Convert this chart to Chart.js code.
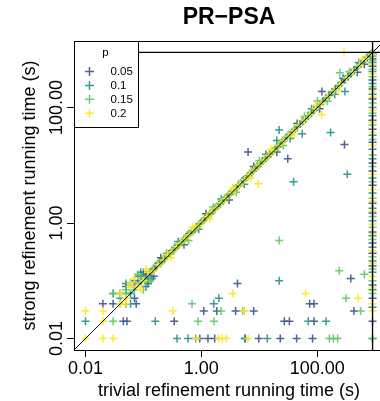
<!DOCTYPE html>
<html>
<head>
<meta charset="utf-8">
<script src="https://cdn.jsdelivr.net/npm/chart.js@4/dist/chart.umd.min.js"></script>
<style>
  html, body { margin: 0; padding: 0; background: #fff; overflow: hidden; }
  #wrap { width: 390px; height: 401px; }
</style>
</head>
<body>
<div id="wrap"><canvas id="plot" width="390" height="401"></canvas></div>
<script>
// PR-PSA: strong vs trivial refinement running time (log-log)

const T = 900;                       // timeout, runs that hit it sit on the lines
const axisMin = 0.00634, axisMax = 1419;
const tickValues = [0.01, 1, 100];
const tickLabels = ['0.01', '1.00', '100.00'];
const pLabels = ['0.05', '0.1', '0.15', '0.2'];
const colors = ['rgba(59,82,139,0.9)', 'rgba(33,144,140,0.9)', 'rgba(93,200,99,0.9)', 'rgba(253,231,37,0.95)'];
const FONT = "'Liberation Sans', Arial, sans-serif";

// [trivial, strong] in seconds
const runs005 = [
  [0.05,0.06],[0.07,0.08],[0.09,0.1],[0.11,0.13],[0.13,0.14],[0.16,0.17],[0.19,0.21],[0.23,0.24],[0.27,0.29],[0.32,0.33],
  [0.38,0.4],[0.45,0.46],[0.53,0.55],[0.62,0.66],[0.74,0.76],[0.87,0.9],[1.05,1.08],[1.25,1.3],[1.5,1.52],[1.8,1.85],
  [2.15,2.2],[2.6,2.7],[3.1,3.2],[3.7,3.8],[4.5,4.6],[5.4,5.6],[6.5,6.6],[7.8,8.1],[9.5,9.7],[11.5,12],
  [14,14.2],[17,17.5],[21,21],[26,27],[32,33],[40,40],[50,52],[62,63],[78,80],[98,100],
  [125,128],[160,162],[205,210],[260,268],[340,345],[430,440],[560,565],[720,730],[880,890],
  [0.2,0.25],[0.5,0.42],[1.2,1.45],[3,2.5],[8,9.5],[20,17],[45,53],[110,95],[280,320],[650,560],
  [0.06,0.09],[0.08,0.12],[0.1,0.14],[0.05,0.08],[0.07,0.05],[0.12,0.09],[0.15,0.12],
  [0.02,0.04],[0.03,0.04],[0.05,0.04],[0.075,0.04],[0.045,0.02],[0.052,0.02],[0.34,0.02],
  [0.94,0.01],[1.3,0.01],[1.7,0.01],[5.7,0.01],[9.8,0.01],[23,0.01],[44,0.01],[83,0.01],
  [1.1,0.03],[1.85,0.03],[3.9,0.03],[8,0.03],[4.2,0.09],[27,0.02],[33,0.02],[88,0.02],[74,0.04],[88,0.04],
  [380,0.11],[430,0.03],[6.4,17],[31,13],[295,23],[120,190],[490,410],
  [T,850],[T,700],[T,520],[T,300],[T,210],[T,140],[T,60],[T,42],[T,25],[T,11],[T,8],[T,4.5],[T,2.2],[T,1.5],
  [T,0.7],[T,0.45],[T,0.3],[T,0.18],[T,0.085],[T,0.05],[T,0.02]
];
const runs01 = [
  [0.04,0.05],[0.06,0.06],[0.08,0.09],[0.1,0.12],[0.12,0.11],[0.15,0.16],[0.18,0.2],[0.21,0.22],[0.25,0.27],[0.3,0.31],
  [0.35,0.38],[0.42,0.43],[0.5,0.52],[0.58,0.62],[0.69,0.7],[0.82,0.86],[0.97,1],[1.15,1.2],[1.4,1.42],[1.7,1.75],
  [2,2.1],[2.4,2.45],[2.9,3],[3.5,3.6],[4.2,4.3],[5,5.3],[6,6.2],[7.2,7.4],[8.7,9],[10.5,10.8],
  [12.8,13.2],[15.5,15.8],[19,19.6],[23,24],[29,30],[36,37],[45,46],[56,58],[70,72],[88,90],
  [110,115],[140,143],[180,185],[230,236],[300,305],[380,390],[490,500],[640,650],[800,810],
  [0.14,0.11],[0.4,0.48],[0.9,0.78],[2.2,2.6],[5.5,4.7],[13,15.5],[34,29],[80,95],[200,170],[520,600],
  [0.03,0.06],[0.04,0.06],[0.05,0.09],[0.07,0.1],[0.09,0.14],[0.11,0.08],[0.06,0.04],
  [0.01,0.02],[0.16,0.02],[0.38,0.01],[0.59,0.01],[0.8,0.01],[5.6,0.01],[13.7,0.01],[1.64,0.04],[2,0.05],
  [22,0.1],[70,0.02],[142,0.02],[22,41],[20,27],[55,35],[170,37],[330,7],[39,5.2],[300,190],
  [T,780],[T,600],[T,420],[T,260],[T,170],[T,100],[T,72],[T,33],[T,19],[T,13],[T,6],[T,3.3],[T,1.8],[T,1.1],
  [T,0.6],[T,0.38],[T,0.22],[T,0.14],[T,0.07],[T,0.035],[T,0.01]
];
const runs015 = [
  [0.04,0.04],[0.05,0.07],[0.07,0.07],[0.09,0.11],[0.11,0.1],[0.14,0.15],[0.17,0.19],[0.2,0.2],[0.24,0.26],[0.29,0.3],
  [0.35,0.36],[0.41,0.44],[0.49,0.5],[0.58,0.6],[0.7,0.72],[0.83,0.85],[1,1.02],[1.2,1.24],[1.45,1.5],[1.75,1.8],
  [2.1,2.12],[2.5,2.6],[3,3.1],[3.6,3.7],[4.4,4.5],[5.2,5.4],[6.3,6.4],[7.6,7.8],[9.2,9.5],[11,11.5],
  [13.5,13.8],[16.5,17],[20,20.6],[24.5,25],[30,31],[37,38],[46,48],[57,59],[71,73],[90,92],
  [112,116],[145,148],[185,190],[240,245],[310,318],[400,408],[520,530],[680,690],[850,860],
  [0.25,0.3],[0.6,0.5],[1.6,1.9],[4,3.4],[10,12],[26,22],[60,70],[150,128],[360,420],[100,130],
  [0.03,0.06],[0.04,0.06],[0.05,0.06],[0.06,0.09],[0.08,0.13],[0.1,0.07],[0.13,0.1],
  [0.03,0.02],[0.69,0.04],[0.88,0.02],[1.65,0.02],[2.2,0.03],[5.2,0.03],[162,0.01],[190,0.01],[225,0.01],
  [240,0.15],[22,0.5],[313,0.05],[560,0.03],[650,0.13],[245,400],
  [T,880],[T,650],[T,460],[T,340],[T,230],[T,120],[T,80],[T,50],[T,28],[T,15],[T,9.5],[T,5.2],[T,2.7],[T,1.3],
  [T,0.85],[T,0.52],[T,0.26],[T,0.16],[T,0.1],[T,0.06],[T,0.01]
];
const runs02 = [
  [0.05,0.05],[0.06,0.08],[0.08,0.08],[0.1,0.1],[0.12,0.14],[0.15,0.15],[0.18,0.19],[0.22,0.23],[0.26,0.28],[0.31,0.32],
  [0.37,0.39],[0.44,0.45],[0.52,0.54],[0.62,0.63],[0.73,0.77],[0.88,0.9],[1.05,1.05],[1.25,1.3],[1.5,1.55],[1.8,1.82],
  [2.2,2.25],[2.6,2.65],[3.2,3.3],[3.8,3.9],[4.6,4.7],[5.6,5.7],[6.7,6.9],[8.1,8.3],[9.8,10],[12,12.3],
  [14.5,14.8],[17.5,18],[21.5,22],[26,27],[32,32],[39,40],[48,50],[60,61],[75,76],[93,96],
  [118,120],[150,155],[195,198],[250,256],[320,330],[410,420],[540,545],[700,710],[880,900],
  [0.3,0.25],[0.7,0.85],[1.4,1.2],[3.5,4.1],[7,6],[16,19],[40,34],[95,110],[230,200],[600,680],
  [0.04,0.04],[0.04,0.06],[0.05,0.04],[0.07,0.11],[0.09,0.07],[0.11,0.16],[0.06,0.09],
  [0.01,0.01],[0.02,0.01],[0.03,0.01],[0.01,0.03],[0.02,0.03],[0.02,0.02],[0.32,0.03],[0.82,0.01],
  [2,0.01],[2.3,0.01],[2.7,0.01],[6.4,0.01],[5.5,0.03],[3.5,0.06],[63,0.06],[510,0.05],[9.6,4.8],[120,75],[290,T],
  [T,820],[T,560],[T,380],[T,190],[T,150],[T,90],[T,55],[T,37],[T,22],[T,7],[T,3.8],[T,2.4],[T,1.6],[T,0.95],
  [T,0.65],[T,0.33],[T,0.2],[T,0.12],[T,0.075],[T,0.04],[T,0.03]
];
const allRuns = [runs005, runs01, runs015, runs02];

const pointSets = allRuns.map((runs, i) => ({
  label: pLabels[i],
  data: runs.map(r => ({ x: r[0], y: r[1] })),
  pointStyle: 'cross',
  pointRadius: 4,
  pointHoverRadius: 4,
  borderWidth: 1.5,
  borderColor: colors[i],
  backgroundColor: colors[i],
  order: 4 - i
}));

function refLine(pts, width) {
  return {
    data: pts.map(p => ({ x: p[0], y: p[1] })),
    showLine: true, pointRadius: 0, borderColor: '#000', borderWidth: width, order: 0
  };
}
const lineSets = [
  refLine([[axisMin, axisMin], [axisMax, axisMax]], 1),
  refLine([[axisMin, T], [axisMax, T]], 1.3),
  refLine([[T, axisMin], [T, axisMax]], 1.3)
];

const decor = {
  id: 'decor',
  afterDatasetsDraw(chart) {
    const { ctx, chartArea: a, scales: { y } } = chart;
    ctx.save();
    ctx.strokeStyle = '#000';
    ctx.lineWidth = 1;
    ctx.strokeRect(a.left + 0.5, a.top + 0.5, a.right - a.left, a.bottom - a.top);

    // legend, top left of plot
    const lx = a.left + 0.5, ly = a.top + 0.5, lw = 64, lh = 86;
    ctx.fillStyle = '#fff';
    ctx.fillRect(lx, ly, lw, lh);
    ctx.strokeRect(lx, ly, lw, lh);
    ctx.fillStyle = '#000';
    ctx.font = '11.5px ' + FONT;
    ctx.textAlign = 'center';
    ctx.textBaseline = 'alphabetic';
    ctx.fillText('p', lx + 31, ly + 14);
    ctx.textAlign = 'left';
    ctx.textBaseline = 'middle';
    pLabels.forEach((lab, i) => {
      const cy = ly + 30 + i * 13.9, cx = lx + 15;
      ctx.strokeStyle = colors[i];
      ctx.lineWidth = 1.5;
      ctx.beginPath();
      ctx.moveTo(cx - 4.5, cy); ctx.lineTo(cx + 4.5, cy);
      ctx.moveTo(cx, cy - 4.5); ctx.lineTo(cx, cy + 4.5);
      ctx.stroke();
      ctx.fillStyle = '#000';
      ctx.fillText(lab, lx + 36, cy + 0.5);
    });

    // y tick labels, rotated like R
    ctx.font = '18px ' + FONT;
    ctx.textAlign = 'center';
    ctx.textBaseline = 'alphabetic';
    y.ticks.forEach((t, i) => {
      ctx.save();
      ctx.translate(62, y.getPixelForValue(t.value));
      ctx.rotate(-Math.PI / 2);
      ctx.fillText(tickLabels[i], 0, 0);
      ctx.restore();
    });

    // titles
    const cx = (a.left + a.right) / 2, cy = (a.top + a.bottom) / 2;
    ctx.fillText('trivial refinement running time (s)', cx, 396);
    ctx.save();
    ctx.translate(35, cy);
    ctx.rotate(-Math.PI / 2);
    ctx.fillText('strong refinement running time (s)', 0, 0);
    ctx.restore();
    ctx.font = 'bold 23px ' + FONT;
    ctx.textBaseline = 'middle';
    ctx.fillText('PR\u2212PSA', cx, 18);
    ctx.restore();
  }
};

const setTicks = s => { s.ticks = tickValues.map(v => ({ value: v })); };

new Chart(document.getElementById('plot'), {
  type: 'scatter',
  data: { datasets: [...lineSets, ...pointSets] },
  options: {
    responsive: false,
    animation: false,
    devicePixelRatio: 1,
    layout: { padding: { top: 41, right: 6, left: 0, bottom: 0 } },
    plugins: { legend: { display: false }, title: { display: false }, tooltip: { enabled: false } },
    scales: {
      x: {
        type: 'logarithmic', min: axisMin, max: axisMax,
        afterBuildTicks: setTicks,
        afterFit: s => { s.height = 51; },
        border: { display: false },
        grid: { drawOnChartArea: false, drawTicks: true, tickLength: 7, color: '#000', tickWidth: 1 },
        ticks: {
          color: '#000', font: { family: FONT, size: 18 }, padding: 1, maxRotation: 0, autoSkip: false,
          callback: (v, i) => tickLabels[i]
        }
      },
      y: {
        type: 'logarithmic', min: axisMin, max: axisMax,
        afterBuildTicks: setTicks,
        afterFit: s => { s.width = 74; },
        border: { display: false },
        grid: { drawOnChartArea: false, drawTicks: true, tickLength: 7, color: '#000', tickWidth: 1 },
        ticks: { display: false }
      }
    }
  },
  plugins: [decor]
});
</script>
</body>
</html>
